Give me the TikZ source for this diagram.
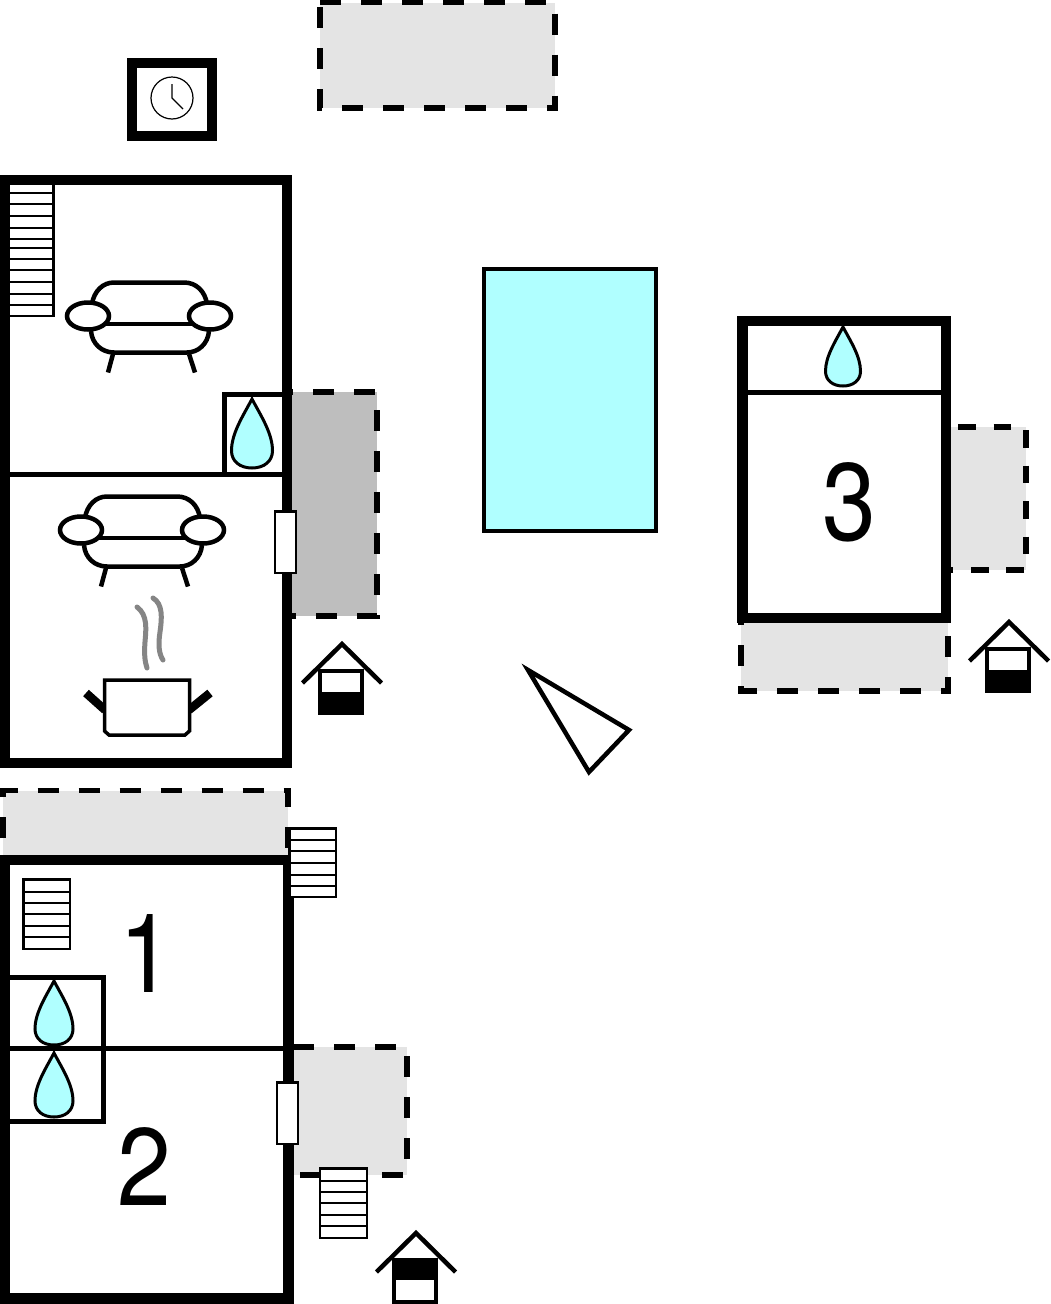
\documentclass[tikz,border=0pt]{standalone}
\usepackage{fontspec}
\setmainfont{TeX Gyre Heros}
\definecolor{aqua}{HTML}{B0FFFF}
\definecolor{terlight}{HTML}{E4E4E4}
\definecolor{terdark}{HTML}{BEBEBE}
\tikzset{
  wall/.style={line width=10.5pt,draw=black,miter limit=10},
  partition/.style={line width=5pt,draw=black},
  bathbox/.style={line width=5pt,draw=black},
  edgedash/.style={line width=5.5pt,draw=black,dash pattern=on 21pt off 20pt},
  edgedashs/.style={line width=5.5pt,draw=black,dash pattern=on 17.75pt off 17.75pt},
  waterdrop/.style={line width=3pt,draw=black,fill=aqua},
  stairbox/.style={line width=2.2pt,draw=black,fill=white},
  doorbox/.style={line width=2.2pt,draw=black,fill=white},
  sofaline/.style={line width=4.5pt,draw=black,line cap=butt},
  sofaarm/.style={line width=4.5pt,draw=black,fill=white},
  steam/.style={line width=5pt,draw=black!48,line cap=round},
  numeral/.style={font=\fontsize{110}{110}\selectfont,inner sep=0pt,anchor=base,xscale=0.88},
}
\newcommand{\wdrop}[4]{% cx top halfwidth height
  \begin{scope}[shift={(#1,#2)},xscale=#3,yscale=#4]
    \path[waterdrop] (0,0) .. controls (0.45,0.25) and (1,0.5) .. (1,0.75)
      .. controls (1,0.9) and (0.6,1) .. (0,1)
      .. controls (-0.6,1) and (-1,0.9) .. (-1,0.75)
      .. controls (-1,0.5) and (-0.45,0.25) .. (0,0) -- cycle;
  \end{scope}}
\newcommand{\wstairs}[5]{% x1 y1 x2 y2 line list
  \path[stairbox] (#1,#2) rectangle (#3,#4);
  \foreach \yy in {#5} {\draw[line width=2.2pt] (#1,\yy) -- (#3,\yy);}}
\newcommand{\wsofa}[2]{%
  \begin{scope}[shift={(#1,#2)}]
    \path[sofaline] (92,304) .. controls (94,291) and (103,282.5) .. (114,282.5)
      -- (184,282.5) .. controls (196,282.5) and (205,291) .. (207,304);
    \path[sofaline] (106,324) -- (193,324);
    \path[sofaline] (91,331) .. controls (92,344) and (102,352.5) .. (114,352.5)
      -- (187,352.5) .. controls (198,352.5) and (208,344) .. (209,331);
    \path[sofaline] (113,354) -- (108,372.5);
    \path[sofaline] (189,354) -- (195,372.5);
    \path[sofaarm] (88,316) ellipse [x radius=21,y radius=13.5];
    \path[sofaarm] (210,316) ellipse [x radius=21,y radius=13.5];
  \end{scope}}
\newcommand{\whouse}[3]{% apex x, apex y, 0 lower black / 1 upper black
  \begin{scope}[shift={(#1,#2)}]
    \draw[line width=4pt,fill=white] (-22,29) rectangle (20,70.5);
    \ifnum#3=0
      \fill (-24,50) rectangle (22,72);
    \else
      \fill (-24,27) rectangle (22,49);
    \fi
    \draw[line width=4.5pt,miter limit=10] (-39.5,41) -- (0,2) -- (39.5,41);
  \end{scope}}
\begin{document}
\begin{tikzpicture}[x=1pt,y=-1pt]
\useasboundingbox (0,0) rectangle (1051,1304);
\fill[white] (0,0) rectangle (1051,1304);

% terraces
\fill[terlight] (320,2.5) rectangle (555,108);
\draw[edgedash] (320,2.5) -- (555,2.5) -- (555,108) -- (320,108) -- (320,2.5);

\fill[terdark] (292,392) rectangle (377,616);
\draw[edgedash,dash phase=20pt] (292,392) -- (377,392) -- (377,616) -- (292,616);

\fill[terlight] (951,427) rectangle (1026,570);
\draw[edgedashs,dash phase=28.5pt] (951,427) -- (1026,427) -- (1026,570) -- (951,570);

\fill[terlight] (741,623) rectangle (948,691);
\draw[edgedash,dash phase=28pt] (948,623) -- (948,691) -- (741,691) -- (741,623);

\fill[terlight] (3,790.5) rectangle (288,855);
\draw[edgedash,dash phase=24pt] (3,855) -- (3,790.5) -- (288,790.5) -- (288,855);

\fill[terlight] (293,1047) rectangle (407,1175);
\draw[edgedash] (293,1047) -- (407,1047) -- (407,1175) -- (293,1175);

% clock
\draw[line width=10.5pt,fill=white] (132,63) rectangle (212,136);
\draw[line width=1.2pt] (172,98) circle (21);
\draw[line width=1.2pt] (172,84) -- (172,98) -- (183,109);

% pool
\draw[line width=4pt,fill=aqua] (484,269) rectangle (656,531);

% north arrow
\draw[line width=4.5pt,miter limit=10] (528,670) -- (629,730) -- (589,772) -- cycle;

% upper building
\draw[wall] (5,180) rectangle (287,763);
\draw[partition] (10,474) -- (282,474);
\draw[bathbox] (224.5,474) -- (224.5,394.5) -- (282,394.5);
\wdrop{252}{399}{20.5}{69}
\wstairs{8.5}{183.5}{53.5}{316}{193,204,216,228,239,248,259,270,282,294,305}
\wsofa{0}{0}
\wsofa{-7}{214}
% pot
\draw[steam] (137,607) .. controls (148,615) and (146,630) .. (145,642) .. controls (144,655) and (145,662) .. (147,668);
\draw[steam] (153,598) .. controls (163,604) and (162,618) .. (160,632) .. controls (158,645) and (159,654) .. (163,660);
\draw[line width=8.5pt] (86,693) -- (105,710);
\draw[line width=8.5pt] (210,693) -- (189,710);
\draw[line width=3.5pt,fill=white] (104.5,680) -- (189.5,680) -- (189.5,731) -- (185,735) -- (109,735) -- (104.5,731) -- cycle;
\path[doorbox] (275,511.5) rectangle (296,573);
\whouse{342}{642}{0}

% lower building
\draw[wall] (5,860) rectangle (288.5,1298.5);
\wstairs{289.5}{828.5}{336}{897}{840,851,863,875,886}
\draw[partition] (10,1048) -- (284,1048);
\draw[bathbox] (10,977) -- (103,977) -- (103,1121) -- (10,1121);
\wdrop{54}{981}{19}{64}
\wdrop{54}{1053}{19}{64}
\wstairs{23.5}{879.5}{70}{949}{892,903,914,926,937}
\wstairs{320}{1168.5}{367}{1238}{1181,1192,1203,1215,1226}
\path[doorbox] (277,1082.5) rectangle (298,1144);
\whouse{416}{1231}{1}
\node[numeral] (roomone) at (146.5,992) {1};
\node[numeral] (roomtwo) at (144.5,1205) {2};

% right building
\draw[wall] (742.5,321) rectangle (946,618);
\draw[partition] (748,392) -- (941,392);
\wdrop{843}{327}{17.5}{59}
\node[numeral] (roomthree) at (849,540) {3};
\whouse{1009}{620}{0}
\end{tikzpicture}
\end{document}
